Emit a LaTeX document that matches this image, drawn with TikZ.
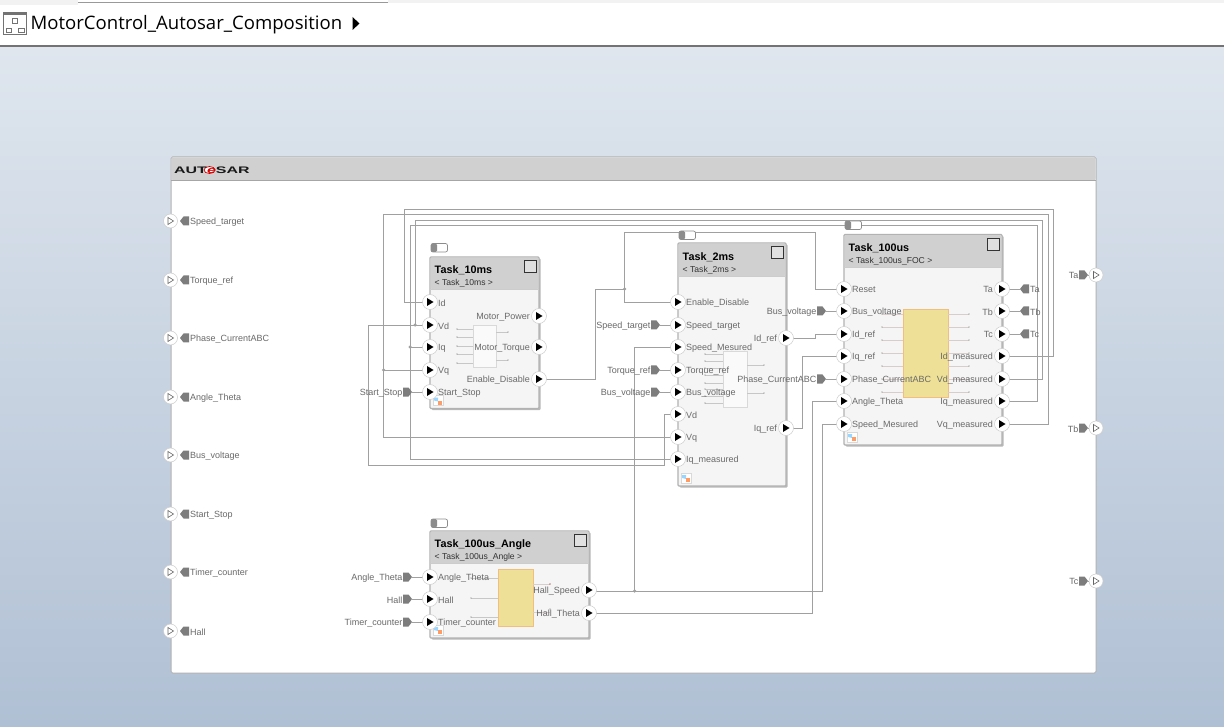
\documentclass[tikz,border=0pt]{standalone}
\usepackage{fontspec}
\setmainfont{Liberation Sans}
\newfontfamily\titlefont{Open Sans}
\usetikzlibrary{calc}
\pgfdeclarelayer{bglayer}\pgfdeclarelayer{wirelayer}
\pgfsetlayers{bglayer,wirelayer,main}
\definecolor{lbl}{RGB}{105,105,105}
\definecolor{wirec}{RGB}{160,160,160}
\definecolor{hdr}{RGB}{208,208,208}
\definecolor{tagc}{RGB}{125,125,125}
\definecolor{yel}{RGB}{238,224,150}
\tikzset{
 wire/.style={draw=wirec,line width=0.9pt},
 port/.style={circle,fill=white,draw=black!20,line width=0.5pt,minimum size=15pt,inner sep=0pt},
 outport/.style={circle,fill=white,draw=black!20,line width=0.5pt,minimum size=14pt,inner sep=0pt},
 lab/.style={text=lbl,inner sep=0pt,font=\fontsize{9}{10}\selectfont},
 dotj/.style={circle,fill=wirec,minimum size=3.5pt,inner sep=0pt},
 tname/.style={inner sep=0pt,anchor=west,font=\bfseries\fontsize{10.8}{12}\selectfont},
 tsub/.style={inner sep=0pt,anchor=west,text=black!80,font=\fontsize{8.6}{10}\selectfont},
 stub/.style={draw=black!22,line width=0.6pt},
 pstub/.style={draw=red!25!black!20,line width=0.6pt},
 block/.style={fill=black!4,draw=black!30,line width=1.1pt,rounded corners=1pt},
 shadowb/.style={fill=black!28,rounded corners=1pt},
}
% left port of a block: name, x, y, label
\newcommand{\lport}[4]{\node[port] (#1) at (#2,#3) {};
 \fill (#2-3,#3-4) -- (#2+3.5,#3) -- (#2-3,#3+4) -- cycle;
 \node[lab,anchor=west] (#1L) at (#2+8,#3+0.9) {#4};}
% right port
\newcommand{\rport}[4]{\node[port] (#1) at (#2,#3) {};
 \fill (#2-3,#3-4) -- (#2+3.5,#3) -- (#2-3,#3+4) -- cycle;
 \node[lab,anchor=east] (#1L) at (#2-9,#3+0.9) {#4};}
% outer port (open triangle)
\newcommand{\oport}[3]{\node[outport] (#1) at (#2,#3) {};
 \draw[black!60,line width=0.6pt,fill=white] (#2-2.5,#3-3.5) -- (#2+3,#3) -- (#2-2.5,#3+3.5) -- cycle;}
% tag pointing right, label on the left; #2 = left x
\newcommand{\tagR}[4]{\coordinate (#1) at (#2+9,#3);
 \fill[tagc] (#2,#3-4.5) -- (#2+5.5,#3-4.5) -- (#2+9,#3) -- (#2+5.5,#3+4.5) -- (#2,#3+4.5) -- cycle;
 \node[lab,anchor=east] (#1L) at (#2-0.5,#3+0.9) {#4};}
% tag pointing left, label on the right; #2 = left x
\newcommand{\tagL}[4]{\coordinate (#1) at (#2,#3);
 \fill[tagc] (#2+9,#3-4.5) -- (#2+3.5,#3-4.5) -- (#2,#3) -- (#2+3.5,#3+4.5) -- (#2+9,#3+4.5) -- cycle;
 \node[lab,anchor=west] (#1L) at (#2+10,#3+0.9) {#4};}
% block: name x1 y1 x2 y2 yhdr title subtitle
\newcommand{\taskblock}[8]{
 \fill[shadowb] (#2+1.5,#3+1.5) rectangle (#4+1.5,#5+1.5);
 \draw[block] (#2,#3) rectangle (#4,#5);
 \fill[hdr,rounded corners=1pt] (#2+0.6,#3+0.6) rectangle (#4-0.6,#6);
 \draw[black!20,line width=0.6pt] (#2,#6) -- (#4,#6);
 \coordinate (#1) at (#2,#3);
 \node[tname] (#1T) at (#2+4.5,#6-18.5) {#7};
 \node[tsub] (#1S) at (#2+4.5,#6-6) {#8};
 \draw[black!80,line width=0.8pt,fill=black!12] (#4-15,#3+3.5) rectangle (#4-2.5,#3+15.5);
 % model-link badge
 \fill[white,draw=black!15,line width=0.3pt] (#2+3,#5-13) rectangle (#2+13,#5-3);
 \fill[blue!40!cyan!40] (#2+4,#5-11) -- (#2+8,#5-11) -- (#2+8,#5-7) -- (#2+4,#5-8) -- cycle;
 \fill[orange!70!red!60] (#2+8,#5-8) rectangle (#2+12,#5-4);
}
\newcommand{\tgl}[3]{
 \coordinate (tg#1) at (#2,#3);
 \draw[black!45,fill=white,line width=0.7pt,rounded corners=2pt] (#2,#3) rectangle (#2+16.5,#3+8.5);
 \fill[black!45,rounded corners=1.5pt] (#2,#3) rectangle (#2+6,#3+8.5);
}
\begin{document}
\begin{tikzpicture}[x=1pt,y=-1pt]
\useasboundingbox (0,0) rectangle (1224,727);
\begin{pgfonlayer}{bglayer}
 \shade[top color={rgb,255:red,223;green,230;blue,238},bottom color={rgb,255:red,176;green,192;blue,212}] (0,47) rectangle (1224,727);
 \fill[white] (0,0) rectangle (1224,45);
 \fill[black!5] (0,0) rectangle (78,5);
 \fill[black!5] (388,0) rectangle (1224,3);
 \draw[black!40,line width=0.8pt] (78,2.5) -- (388,2.5);
 \fill[black!55] (0,45.5) rectangle (1224,47.5);
 % outer composition
 \draw[fill=white,draw=black!30,line width=1pt,rounded corners=1.5pt] (171,157) rectangle (1096,673);
 \fill[hdr,rounded corners=1pt] (171.5,157.5) rectangle (1095.5,180);
 \draw[black!35,line width=0.6pt] (171,180) -- (1096,180);
\end{pgfonlayer}
% title bar
\draw[black!55,line width=1pt,fill=white] (3.5,12.5) rectangle (26.5,35);
\fill[black!55] (3.5,12.5) rectangle (26.5,15);
\draw[black!55,line width=0.9pt] (12.5,18) rectangle (17.5,23) (6,28) rectangle (11.5,32.5) (18.5,28) rectangle (24,32.5);
\node[inner sep=0pt,anchor=west] (crumb) at (30.5,25) {\titlefont\fontsize{18.55}{22}\selectfont MotorControl\_Autosar\_Composition};
\fill (352.5,17) -- (359.5,23.5) -- (352.5,30) -- cycle;
% logo
\fill[white,draw=red!80!black,line width=0.7pt] (209.5,170) ellipse (5.5 and 3.5);
\node[inner sep=0pt,anchor=west] (logo) at (174,170) {\scalebox{1.68}[1]{\bfseries\fontsize{9.5}{10}\selectfont \textcolor{black!90}{AUT}\textcolor{red!85!black}{\itshape e}\textcolor{black!90}{SAR}}};
% outer ports
\foreach \n/\y/\t in {a/221/Speed\_target,b/280/Torque\_ref,c/338/Phase\_CurrentABC,d/397/Angle\_Theta,e/455/Bus\_voltage,f/514/Start\_Stop,g/572/Timer\_counter,h/631/Hall}{
 \oport{op\n}{170.5}{\y}
 \tagL{otag\n}{180}{\y}{\t}
}
\oport{opTa}{1096}{275}\tagR{otTa}{1079}{275}{Ta}
\oport{opTb}{1096}{428}\tagR{otTb}{1079}{428}{Tb}
\oport{opTc}{1096}{581}\tagR{otTc}{1079}{581}{Tc}
% ---- Task_10ms
\tgl{A}{431}{243.5}
\taskblock{tA}{430}{257}{539}{408.5}{289}{Task\_10ms}{< Task\_10ms >}
\fill[black!2,draw=black!15,line width=0.5pt] (473,325) rectangle (496,367);
\foreach \y in {329,337,346,354,363}{\draw[stub] (457,\y) -- (473,\y);\fill[black!50] (457,\y) circle (0.6);}
\foreach \y in {332,360}{\draw[stub] (496,\y) -- (508,\y);\fill[black!50] (508,\y) circle (0.6);}
\lport{aId}{430}{302}{Id}\lport{aVd}{430}{325}{Vd}\lport{aIq}{430}{347}{Iq}\lport{aVq}{430}{370}{Vq}\lport{aSS}{430}{392}{Start\_Stop}
\rport{aMP}{539}{316}{Motor\_Power}\rport{aMT}{539}{347}{Motor\_Torque}\rport{aED}{539}{379}{Enable\_Disable}
\tagR{tgSS}{403}{392}{Start\_Stop}
% ---- Task_2ms
\tgl{B}{679}{231}
\taskblock{tB}{678}{243}{786}{486}{276}{Task\_2ms}{< Task\_2ms >}
\fill[black!2,draw=black!15,line width=0.5pt] (723,351) rectangle (747,407);
\foreach \y in {354,361,368,375,383,389,396,403}{\draw[stub] (705,\y) -- (723,\y);\fill[black!50] (705,\y) circle (0.6);}
\foreach \y in {365,393}{\draw[stub] (747,\y) -- (764,\y);\fill[black!50] (764,\y) circle (0.6);}
\lport{bED}{678}{302}{Enable\_Disable}\lport{bST}{678}{325}{Speed\_target}\lport{bSM}{678}{347}{Speed\_Mesured}\lport{bTR}{678}{370}{Torque\_ref}\lport{bBV}{678}{392}{Bus\_voltage}\lport{bVd}{678}{414}{Vd}\lport{bVq}{678}{437}{Vq}\lport{bIq}{678}{459}{Iq\_measured}
\rport{bId}{786}{338}{Id\_ref}\rport{bIr}{786}{428}{Iq\_ref}
\tagR{tgST}{651}{325}{Speed\_target}
\tagR{tgTR}{651}{370}{Torque\_ref}
\tagR{tgBV}{651}{392}{Bus\_voltage}
% ---- Task_100us
\tgl{C}{845}{221}
\taskblock{tC}{844}{234.5}{1002}{445}{267}{Task\_100us}{< Task\_100us\_FOC >}
\fill[yel,draw=yel!85!red,line width=0.4pt] (903,309) rectangle (948,397);
\foreach \y in {314,327,340,353,366,379,392}{\draw[pstub] (882,\y) -- (903,\y);\fill[black!50] (882,\y) circle (0.6);
 \draw[pstub] (948,\y) -- (969,\y);\fill[black!50] (969,\y) circle (0.6);}
\lport{cRe}{844}{289}{Reset}\lport{cBV}{844}{311}{Bus\_voltage}\lport{cId}{844}{334}{Id\_ref}\lport{cIq}{844}{356}{Iq\_ref}\lport{cPh}{844}{379}{Phase\_CurrentABC}\lport{cAT}{844}{401}{Angle\_Theta}\lport{cSM}{844}{424}{Speed\_Mesured}
\rport{cTa}{1002}{289}{Ta}\rport{cTb}{1002}{311}{Tb}\rport{cTc}{1002}{334}{Tc}\rport{cIdm}{1002}{356}{Id\_measured}\rport{cVdm}{1002}{379}{Vd\_measured}\rport{cIqm}{1002}{401}{Iq\_measured}\rport{cVqm}{1002}{424}{Vq\_measured}
\tagR{tgCB}{817}{311}{Bus\_voltage}
\tagR{tgCP}{817}{379}{Phase\_CurrentABC}
\tagL{tgTa}{1020}{289}{Ta}
\tagL{tgTb}{1020}{311}{Tb}
\tagL{tgTc}{1020}{334}{Tc}
% ---- Task_100us_Angle
\tgl{D}{431}{519}
\taskblock{tD}{430}{531}{589}{638}{563}{Task\_100us\_Angle}{< Task\_100us\_Angle >}
\fill[yel,draw=yel!85!red,line width=0.4pt] (498,569) rectangle (533,626);
\foreach \y in {578,598,617}{\draw[stub] (471,\y) -- (498,\y);\fill[black!50] (471,\y) circle (0.6);}
\draw[pstub] (533,584) -- (550,584);\fill[red!60!black] (550,584) circle (0.7);
\draw[pstub] (533,612) -- (550,612);\fill[black!50] (550,609) circle (0.6);
\lport{dAT}{430}{577}{Angle\_Theta}\lport{dHa}{430}{599}{Hall}\lport{dTC}{430}{622}{Timer\_counter}
\rport{dHS}{589}{590}{Hall\_Speed}\rport{dHT}{589}{613}{Hall\_Theta}
\tagR{tgAT}{403}{577}{Angle\_Theta}
\tagR{tgHa}{403}{599}{Hall}
\tagR{tgTC}{403}{622}{Timer\_counter}
% junctions
\node[dotj] (jVd) at (415,325) {};
\node[dotj] (jIq) at (410,347) {};
\node[dotj] (jVq) at (383.5,370) {};
\node[dotj] (jEn) at (624.5,289) {};
\node[dotj] (jHS) at (634.5,591) {};
% wires
\begin{pgfonlayer}{wirelayer}
 \draw[wire] (cIdm.center) -- (1053,356) -- (1053,209) -- (404,209) -- (404,302) -- (aId.center);
 \draw[wire] (cVdm.center) -- (1042,379) -- (1042,220.5) -- (415,220.5) -- (jVd.center);
 \draw[wire] (aVd.center) -- (368,325) -- (368,465) -- (664,465) -- (664,414) -- (bVd.center);
 \draw[wire] (cIqm.center) -- (1037,401) -- (1037,225.5) -- (410,225.5) -- (jIq.center);
 \draw[wire] (jIq.center) -- (aIq.center);
 \draw[wire] (jIq.center) -- (410,459) -- (bIq.center);
 \draw[wire] (cVqm.center) -- (1048,424) -- (1048,214) -- (383.5,214) -- (jVq.center);
 \draw[wire] (jVq.center) -- (aVq.center);
 \draw[wire] (jVq.center) -- (383.5,437) -- (bVq.center);
 \draw[wire] (tgSS) -- (aSS.center);
 \draw[wire] (aED.center) -- (595,379) -- (595,289) -- (jEn.center);
 \draw[wire] (jEn.center) -- (624.5,232.5) -- (815,232.5) -- (815,289) -- (cRe.center);
 \draw[wire] (jEn.center) -- (624.5,302) -- (bED.center);
 \draw[wire] (dHS.center) -- (589,591) -- (jHS.center);
 \draw[wire] (jHS.center) -- (822,591) -- (822,424) -- (cSM.center);
 \draw[wire] (jHS.center) -- (634.5,347) -- (bSM.center);
 \draw[wire] (dHT.center) -- (812,613) -- (812,401) -- (cAT.center);
 \draw[wire] (bId.center) -- (815,338) -- (815,334) -- (cId.center);
 \draw[wire] (bIr.center) -- (802,428) -- (802,356) -- (cIq.center);
 \draw[wire] (tgST) -- (bST.center);
 \draw[wire] (tgTR) -- (bTR.center);
 \draw[wire] (tgBV) -- (bBV.center);
 \draw[wire] (tgCB) -- (cBV.center);
 \draw[wire] (tgCP) -- (cPh.center);
 \draw[wire] (cTa.center) -- (tgTa);
 \draw[wire] (cTb.center) -- (tgTb);
 \draw[wire] (cTc.center) -- (tgTc);
 \draw[wire] (tgAT) -- (dAT.center);
 \draw[wire] (tgHa) -- (dHa.center);
 \draw[wire] (tgTC) -- (dTC.center);
 \draw[wire] (otTa) -- (opTa.center);
 \draw[wire] (otTb) -- (opTb.center);
 \draw[wire] (otTc) -- (opTc.center);
\end{pgfonlayer}
\end{tikzpicture}
\end{document}
